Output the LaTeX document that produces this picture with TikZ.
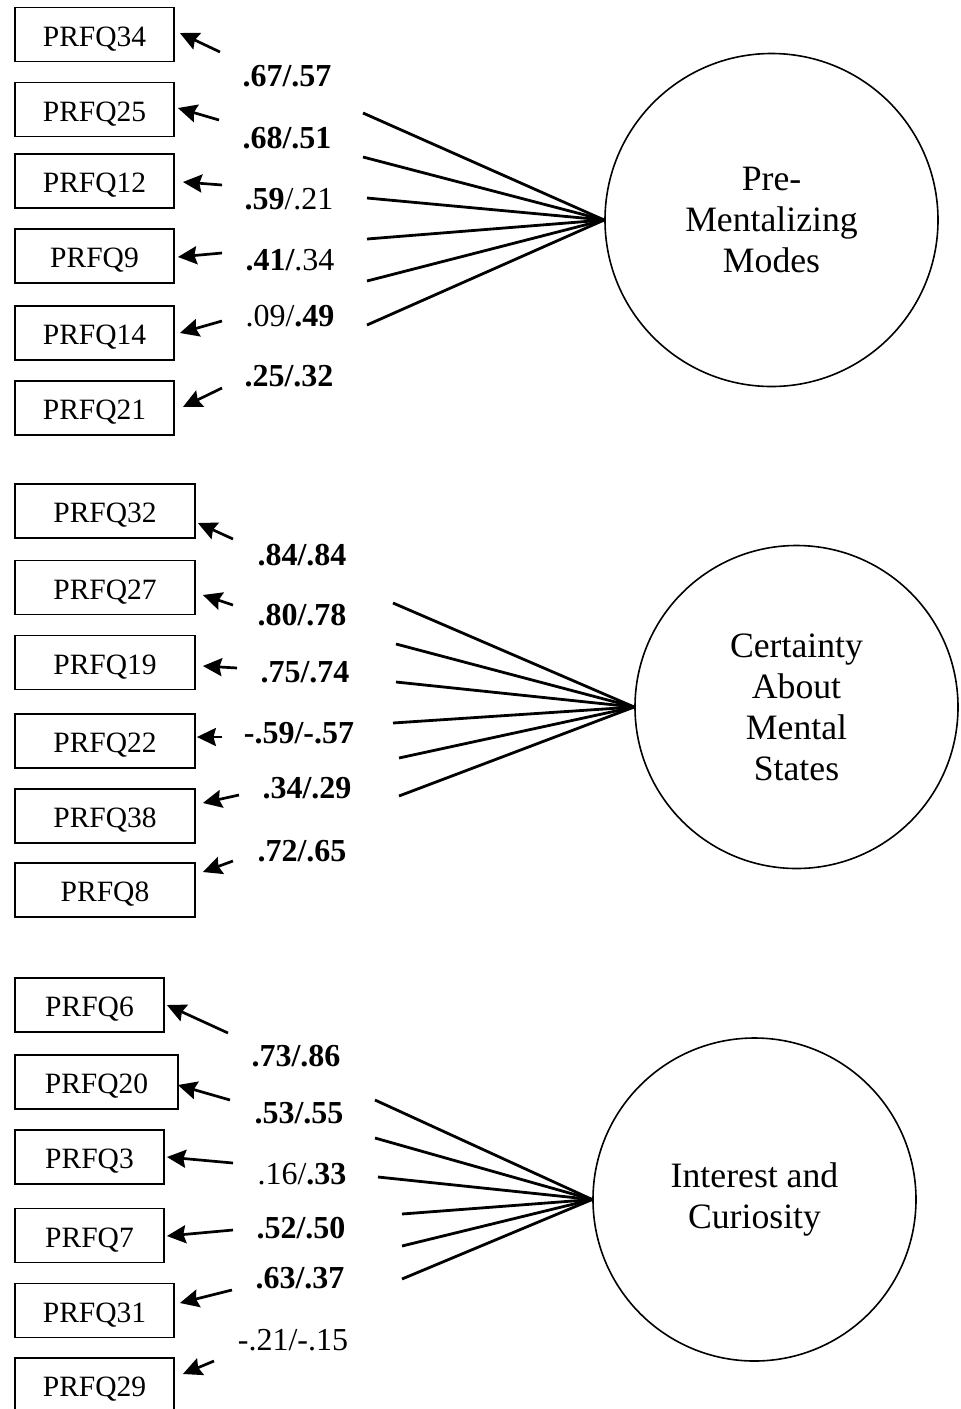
\documentclass[tikz,border=0pt]{standalone}
\usepackage{fontspec}
\setmainfont{Liberation Serif}
\usetikzlibrary{arrows.meta,calc}
\begin{document}
\begin{tikzpicture}[x=1pt,y=-1pt,
  ind/.style={draw,line width=1.8pt,inner sep=0pt,minimum height=54pt,text height=23.5pt,text depth=0pt,font=\fontsize{29.5}{35}\selectfont},
  lat/.style={draw,circle,line width=1.6pt,inner sep=0pt,minimum size=#1,align=center,font=\fontsize{35.7}{41}\selectfont},
  load/.style={inner sep=0pt,font=\fontsize{32}{36}\selectfont},
  arr/.style={line width=2.7pt,-{Stealth[length=19pt,width=18pt,inset=2.5pt]}},
  fan/.style={line width=2.8pt}
]
\useasboundingbox (0,0) rectangle (961,1409);
\clip (0,0) rectangle (961,1409);

% ---------- Group 1 ----------
\node[ind,minimum width=159pt] (b34) at (94.5,34.5) {PRFQ34};
\node[ind,minimum width=159pt] (b25) at (94.5,109.5) {PRFQ25};
\node[ind,minimum width=159pt] (b12) at (94.5,181) {PRFQ12};
\node[ind,minimum width=159pt] (b9) at (94.5,256) {PRFQ9};
\node[ind,minimum width=159pt] (b14) at (94.5,333) {PRFQ14};
\node[ind,minimum width=159pt] (b21) at (94.5,408) {PRFQ21};

\node[lat=333pt] (f1) at (771.5,220) {Pre-\\Mentalizing\\Modes};

\coordinate (s34) at (220,52);
\coordinate (s25) at (219,120);
\coordinate (s12) at (222,185);
\coordinate (s9) at (222,253);
\coordinate (s14) at (222,321);
\coordinate (s21) at (222,388);

\draw[arr] (s34) -- ($(b34.east)+(5,-1.5)$);
\draw[arr] (s25) -- ($(b25.east)+(3,-1.5)$);
\draw[arr] (s12) -- ($(b12.east)+(8,1)$);
\draw[arr] (s9) -- ($(b9.east)+(3,1)$);
\draw[arr] (s14) -- ($(b14.east)+(5,0)$);
\draw[arr] (s21) -- ($(b21.east)+(8,-1)$);

\coordinate (e34) at (363,113);
\coordinate (e25) at (363,157);
\coordinate (e12) at (367,198);
\coordinate (e9) at (367,239);
\coordinate (e14) at (367,281);
\coordinate (e21) at (367,325);
\foreach \c in {e34,e25,e12,e9,e14,e21} \draw[fan] (f1.west) -- (\c);

\node[load] (l34) at (287,76) {\textbf{.67/.57}};
\node[load] (l25) at (287,138) {\textbf{.68/.51}};
\node[load] (l12) at (289,199) {\textbf{.59}/.21};
\node[load] (l9) at (290,260) {\textbf{.41/}.34};
\node[load] (l14) at (290,316) {.09/\textbf{.49}};
\node[load] (l21) at (289,376) {\textbf{.25/.32}};

% ---------- Group 2 ----------
\node[ind,minimum width=180pt] (b32) at (105,511) {PRFQ32};
\node[ind,minimum width=180pt] (b27) at (105,587.5) {PRFQ27};
\node[ind,minimum width=180pt] (b19) at (105,662.5) {PRFQ19};
\node[ind,minimum width=180pt] (b22) at (105,741) {PRFQ22};
\node[ind,minimum width=180pt] (b38) at (105,816) {PRFQ38};
\node[ind,minimum width=180pt] (b8) at (105,890) {PRFQ8};

\node[lat=323pt] (f2) at (796.5,707) {Certainty\\About\\Mental\\States};

\coordinate (s32) at (233,539);
\coordinate (s27) at (233,605);
\coordinate (s19) at (237,668);
\coordinate (s22) at (222,737);
\coordinate (s38) at (239,795);
\coordinate (s8) at (233,861);

\draw[arr] (s32) -- ($(b32.east)+(2,12)$);
\draw[arr] (s27) -- ($(b27.east)+(7,7.5)$);
\draw[arr] (s19) -- ($(b19.east)+(7,3.5)$);
\draw[arr] (s22) -- ($(b22.east)+(1,-4)$);
\draw[arr] (s38) -- ($(b38.east)+(7,-13)$);
\draw[arr] (s8) -- ($(b8.east)+(7,-18)$);

\coordinate (e32) at (393,603);
\coordinate (e27) at (396,644);
\coordinate (e19) at (396,682);
\coordinate (e22) at (393,723);
\coordinate (e38) at (399,758);
\coordinate (e8) at (399,796);
\foreach \c in {e32,e27,e19,e22,e38,e8} \draw[fan] (f2.west) -- (\c);

\node[load] (l32) at (302,555) {\textbf{.84/.84}};
\node[load] (l27) at (302,615) {\textbf{.80/.78}};
\node[load] (l19) at (305,672) {\textbf{.75/.74}};
\node[load] (l22) at (299,733) {\textbf{-.59/-.57}};
\node[load] (l38) at (307,788) {\textbf{.34/.29}};
\node[load] (l8) at (302,851) {\textbf{.72/.65}};

% ---------- Group 3 ----------
\node[ind,minimum width=149pt] (b6) at (89.5,1005) {PRFQ6};
\node[ind,minimum width=163pt] (b20) at (96.5,1082) {PRFQ20};
\node[ind,minimum width=149pt] (b3) at (89.5,1157) {PRFQ3};
\node[ind,minimum width=149pt] (b7) at (89.5,1235.5) {PRFQ7};
\node[ind,minimum width=159pt] (b31) at (94.5,1310.5) {PRFQ31};
\node[ind,minimum width=159pt] (b29) at (94.5,1385) {PRFQ29};

\node[lat=323pt] (f3) at (754.5,1199.5) {Interest and\\Curiosity};

\coordinate (s6) at (228,1033);
\coordinate (s20) at (230,1100);
\coordinate (s3) at (233,1163);
\coordinate (s7) at (233,1230);
\coordinate (s31) at (232,1290);
\coordinate (s29) at (214,1361);

\draw[arr] (s6) -- ($(b6.east)+(2,0)$);
\draw[arr] (s20) -- ($(b20.east)+(-1,3)$);
\draw[arr] (s3) -- ($(b3.east)+(2,0)$);
\draw[arr] (s7) -- ($(b7.east)+(2,0.5)$);
\draw[arr] (s31) -- ($(b31.east)+(5,-7.5)$);
\draw[arr] (s29) -- ($(b29.east)+(8,-11)$);

\coordinate (e6) at (375,1100);
\coordinate (e20) at (375,1138);
\coordinate (e3) at (378,1177);
\coordinate (e7) at (402,1214);
\coordinate (e31) at (402,1246);
\coordinate (e29) at (402,1279);
\foreach \c in {e6,e20,e3,e7,e31,e29} \draw[fan] (f3.west) -- (\c);

\node[load] (l6) at (296,1056) {\textbf{.73/.86}};
\node[load] (l20) at (299,1113) {\textbf{.53/.55}};
\node[load] (l3) at (302,1174) {.16/\textbf{.33}};
\node[load] (l7) at (301,1228) {\textbf{.52/.50}};
\node[load] (l31) at (300,1278) {\textbf{.63/.37}};
\node[load] (l29) at (293,1340) {-.21/-.15};
\end{tikzpicture}
\end{document}
